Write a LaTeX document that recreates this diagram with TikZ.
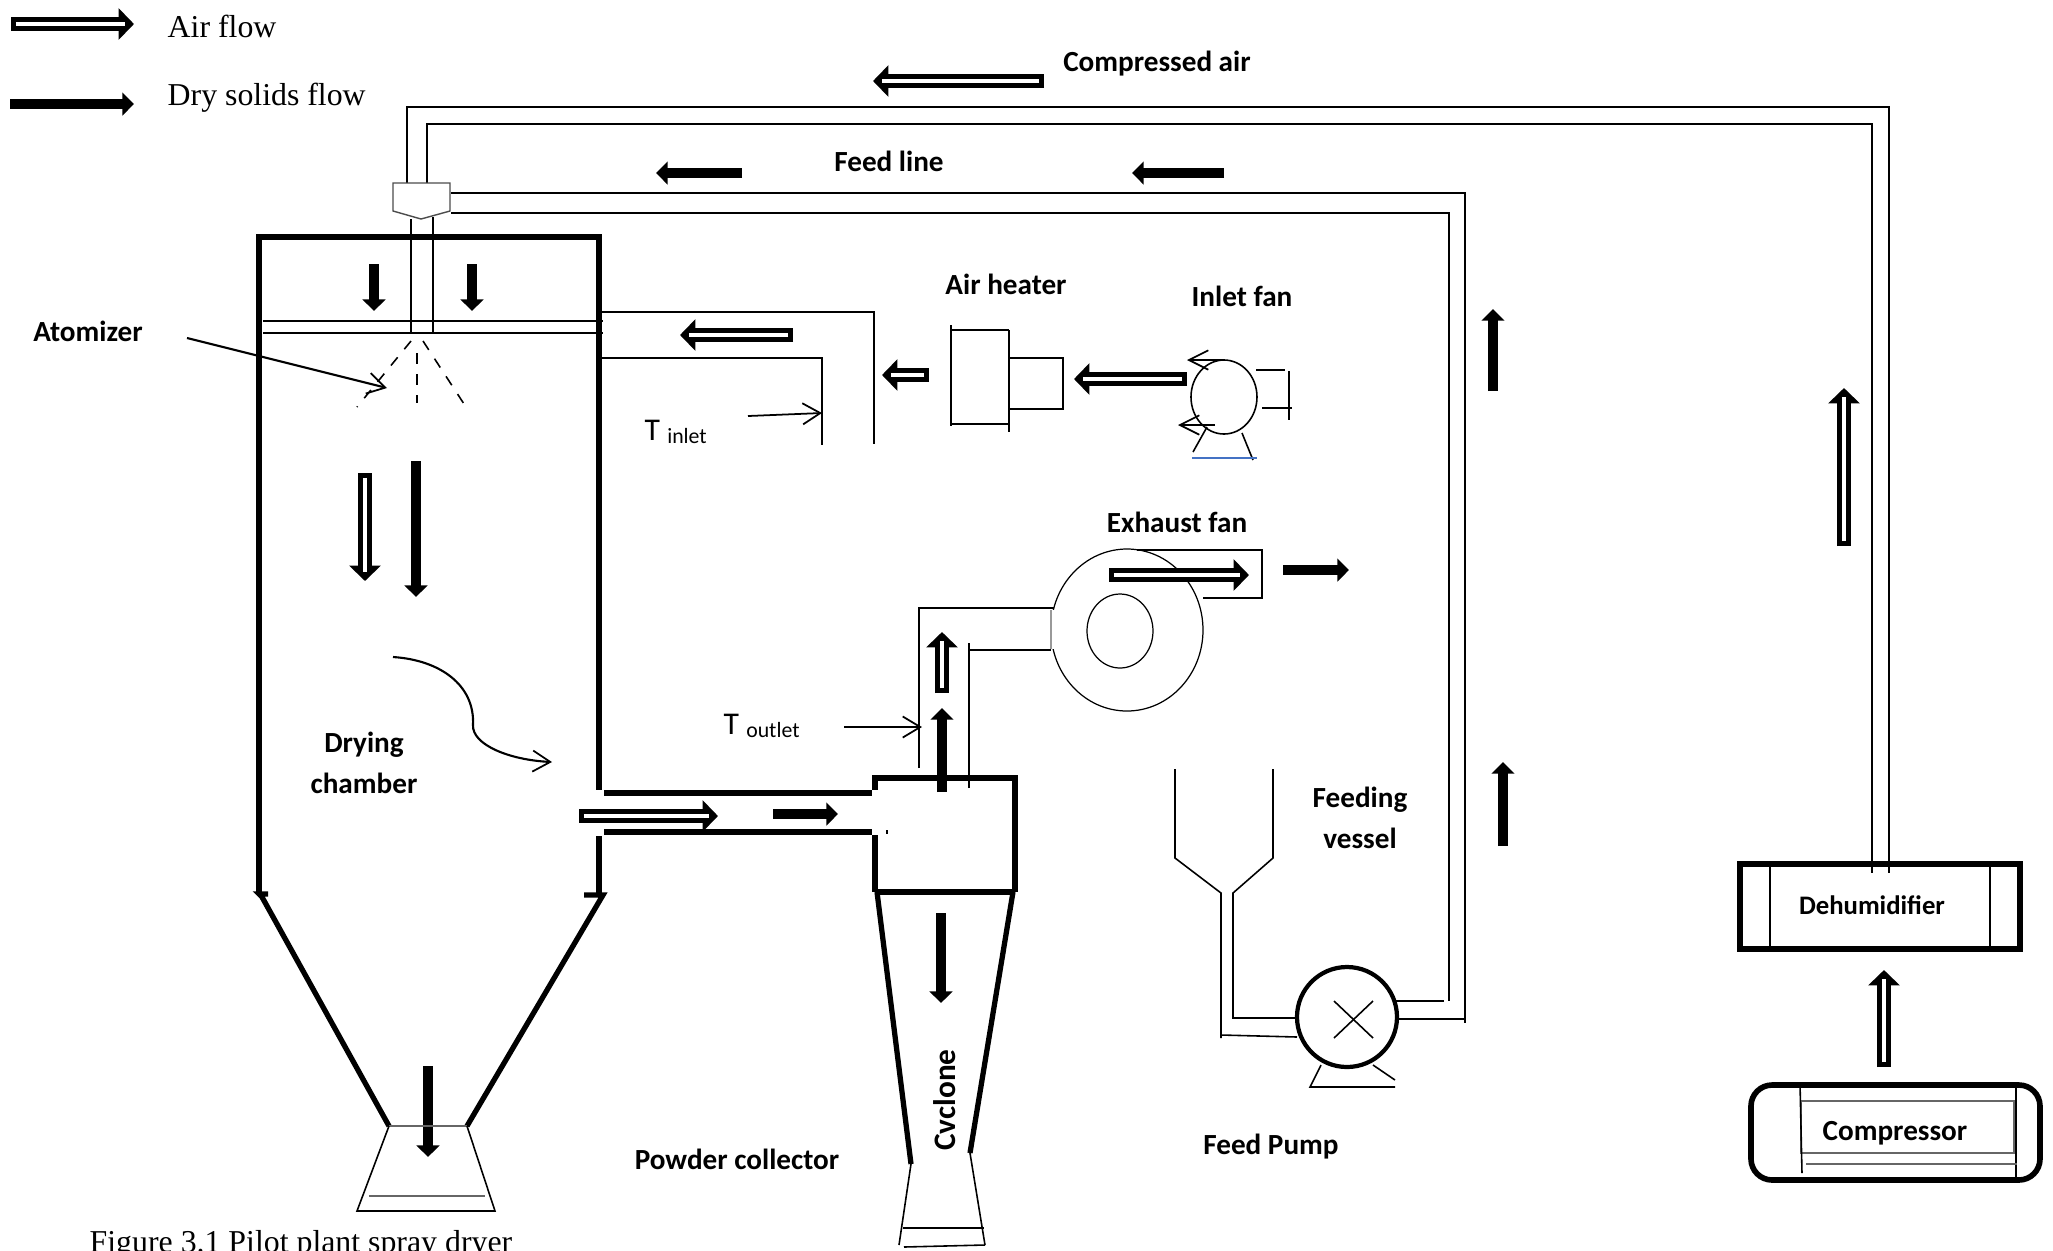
\documentclass[tikz,border=0pt]{standalone}
\usepackage{fontspec}
\setmainfont{Carlito}
\newfontfamily\timesfont{Liberation Serif}
\usepackage{xcolor}
\usetikzlibrary{calc,arrows.meta}
\definecolor{baseblue}{HTML}{4472C4}
\tikzset{
  pipe/.style={line width=0.45pt},
  wall/.style={line width=1.5pt},
  faint/.style={line width=0.5pt,black!60},
  openhead/.style={line width=0.5pt,-{Straight Barb[length=5pt,width=6pt,line width=0.5pt]}},
  solidflow/.style={line width=2.9pt,-{Triangle[length=3.3pt,width=6.4pt]}},
  airflow/.style={line width=4.1pt,-{Triangle[length=4.4pt,width=8.8pt]},
    postaction={draw=white,line width=1.4pt,arrows=-,shorten <=1.4pt,shorten >=2.6pt}},
  tag/.style={font=\fontsize{8.3}{10}\selectfont\bfseries,inner sep=0pt},
  keytext/.style={font=\fontsize{9.05}{11}\timesfont,inner sep=0pt,anchor=west},
  probe/.style={font=\fontsize{9}{11}\selectfont,inner sep=0pt,anchor=base west}
}
\begin{document}
\begin{tikzpicture}[x=0.01cm,y=-0.01cm]
  \useasboundingbox (0,0) rectangle (2053,1250);
  % legend
  \draw[airflow] (11,24) -- (134,24);
  \draw[solidflow] (10,104) -- (134,104);
  \node[keytext] (airkey) at (167,26) {Air flow};
  \node[keytext] (solidkey) at (167,98) {Dry solids flow};
  \node[keytext] (figcaption) at (89,1245) {Figure 3.1 Pilot plant spray dryer};
  % compressed air line and feed line
  \draw[pipe] (407,183) -- (407,107) -- (1889,107) -- (1889,873);
  \draw[pipe] (427,183) -- (427,124) -- (1872,124) -- (1872,873);
  \draw[pipe] (451,193) -- (1465,193) -- (1465,1023);
  \draw[pipe] (451,213) -- (1449,213) -- (1449,1001);
  \draw[pipe] (1398,1019) -- (1465,1019);
  \draw[pipe] (1396,1001) -- (1444,1001);
  \draw[airflow] (1044,81) -- (873,81);
  \foreach \a/\b in {742/656,1224/1132}{
    \draw[solidflow] (\a,173) -- (\b,173);
  }
  \draw[solidflow] (1493,391) -- (1493,309);
  \draw[solidflow] (1503,846) -- (1503,762);
  \draw[airflow] (1844,546) -- (1844,388);
  \node[tag] (compressedair) at (1157,64) {Compressed air};
  \node[tag] (feedline) at (889,161) {Feed line};
  % nozzle and spray
  \draw[line width=0.4pt,black!70] (393,183) -- (450,183) -- (450,211) -- (421,219) -- (393,211) -- cycle;
  \draw[pipe] (411,219) -- (411,333);
  \draw[pipe] (433,217) -- (433,333);
  \draw[pipe,dashed] (411,341) -- (357,407);
  \draw[pipe,dashed] (417,353) -- (417,403);
  \draw[pipe,dashed] (423,341) -- (466,407);
  % drying chamber
  \draw[line width=1.8pt] (259,894) -- (259,237) -- (599,237) -- (599,790);
  \draw[wall] (599,836) -- (599,895);
  \draw[wall] (268,894) -- (259,894) -- (262,897) -- (389,1126);
  \draw[wall] (584,895) -- (603,895) -- (467,1126);
  \draw[pipe] (263,321) -- (603,321);
  \draw[pipe] (263,333) -- (603,333);
  \foreach \x in {374,472}{
    \draw[solidflow] (\x,264) -- (\x,311);
  }
  \draw[airflow] (365,473) -- (365,581);
  \draw[solidflow] (416,461) -- (416,597);
  \draw[solidflow] (428,1066) -- (428,1157);
  \draw[openhead,line width=0.6pt] (393,657) .. controls (440,660) and (475,685) .. (473,725) .. controls (472,745) and (510,760) .. (552,762);
  \coordinate (atomfrom) at (187,338);
  \coordinate (atomto) at (387,388);
  \draw[openhead,line width=0.6pt] (atomfrom) -- (atomto);
  \node[tag] (atomizer) at (88,331) {Atomizer};
  \node[tag] (drying) at (364,745) {Drying};
  \node[tag] (chamber) at (364,783) {chamber};
  % powder collector
  \draw[faint] (389,1126) -- (467,1126);
  \draw[pipe] (389,1126) -- (357,1211) -- (495,1211) -- (467,1126);
  \draw[faint] (369,1196) -- (485,1196);
  % inlet duct
  \draw[pipe] (602,312) -- (874,312) -- (874,444);
  \draw[pipe] (602,358) -- (822,358) -- (822,445);
  \draw[airflow] (793,335) -- (680,335);
  \coordinate (tinletfrom) at (748,416);
  \coordinate (tinletto) at (822,413);
  \draw[openhead] (tinletfrom) -- (tinletto);
  \node[probe] (tinlet) at (644,440) {T \raisebox{-1pt}{\fontsize{6.2}{7}\selectfont inlet}};
  % air heater
  \draw[airflow] (929,375) -- (882,375);
  \draw[pipe] (951,325) -- (951,426);
  \draw[pipe] (951,330) -- (1009,330);
  \draw[pipe] (951,424) -- (1009,424);
  \draw[pipe] (1009,330) -- (1009,432);
  \draw[pipe] (1009,358) -- (1063,358) -- (1063,409) -- (1009,409);
  \draw[airflow] (1187,379) -- (1074,379);
  \node[tag] (airheater) at (1006,284) {Air heater};
  % inlet fan
  \draw[pipe] (1224,397) ellipse (33 and 37);
  \coordinate (fantop) at (1225,360);
  \coordinate (fantoptip) at (1187,360);
  \coordinate (fanlow) at (1215,425);
  \coordinate (fanlowtip) at (1178,425);
  \draw[openhead,-{Straight Barb[length=5.5pt,width=5.5pt,line width=0.5pt]}] (fantop) -- (fantoptip);
  \draw[openhead,-{Straight Barb[length=5.5pt,width=5.5pt,line width=0.5pt]}] (fanlow) -- (fanlowtip);
  \draw[pipe] (1256,370) -- (1285,370);
  \draw[pipe] (1262,408) -- (1292,408);
  \draw[pipe] (1289,371) -- (1289,420);
  \draw[pipe] (1207,427) -- (1193,452);
  \draw[pipe] (1242,433) -- (1253,460);
  \draw[baseblue,line width=0.45pt] (1192,458) -- (1257,458);
  \node[tag] (inletfan) at (1242,296) {Inlet fan};
  % exhaust fan
  \draw[line width=0.35pt] (1127,630) ellipse (76 and 81);
  \draw[line width=0.35pt] (1120,631) ellipse (33 and 37);
  \draw[white,line width=1pt] (1052,610) -- (1052,649);
  \draw[line width=0.3pt,black!40] (1051,610) -- (1051,649);
  \draw[pipe] (1137,550) -- (1262,550) -- (1262,598) -- (1203,598);
  \draw[pipe] (919,768) -- (919,608) -- (1054,608);
  \draw[pipe] (969,788) -- (969,643);
  \draw[pipe] (969,650) -- (1051,650);
  \draw[airflow] (1109,575) -- (1249,575);
  \draw[solidflow] (1283,570) -- (1349,570);
  \draw[airflow] (942,693) -- (942,632);
  \node[tag] (exhaustfan) at (1177,522) {Exhaust fan};
  \coordinate (toutletfrom) at (844,727);
  \coordinate (toutletto) at (922,727);
  \draw[openhead] (toutletfrom) -- (toutletto);
  \node[probe] (toutlet) at (723,734) {T \raisebox{-1pt}{\fontsize{6.2}{7}\selectfont outlet}};
  % connecting pipe and cyclone
  \draw[line width=1.8pt] (604,793) -- (872,793);
  \draw[line width=1.8pt] (604,832) -- (872,832);
  \draw[airflow] (579,816) -- (718,816);
  \draw[solidflow] (773,814) -- (838,814);
  \draw[wall] (875,790) -- (875,778) -- (1015,778) -- (1015,892);
  \draw[wall] (875,835) -- (875,892);
  \draw[pipe] (887,830) -- (887,834);
  \draw[line width=1.6pt] (875,892) -- (1015,892);
  \draw[solidflow] (942,792) -- (942,708);
  \draw[wall] (877,892) -- (911,1164);
  \draw[wall] (1013,892) -- (970,1153);
  \draw[pipe] (911,1164) -- (899,1245);
  \draw[pipe] (970,1153) -- (985,1245);
  \draw[pipe] (904,1247) -- (985,1245);
  \draw[pipe] (903,1228) -- (984,1228);
  \draw[solidflow] (941,913) -- (941,1003);
  \node[tag,rotate=90,font=\fontsize{8.9}{10}\selectfont\bfseries] (cyclone) at (945,1100) {Cvclone};
  \node[tag] (powder) at (737,1159) {Powder collector};
  % feeding vessel and pump
  \draw[pipe] (1175,769) -- (1175,858) -- (1221,893) -- (1221,1038);
  \draw[pipe] (1273,769) -- (1273,858) -- (1233,893) -- (1233,1018) -- (1296,1018);
  \draw[pipe] (1221,1035) -- (1297,1037);
  \draw[line width=1.2pt] (1347,1017) ellipse (50 and 50);
  \draw[pipe] (1334,1001) -- (1373,1038);
  \draw[pipe] (1373,1001) -- (1334,1038);
  \draw[pipe] (1321,1065) -- (1310,1087) -- (1395,1087);
  \draw[pipe] (1373,1065) -- (1395,1080);
  \node[tag] (feeding) at (1360,800) {Feeding};
  \node[tag] (vessel) at (1360,838) {vessel};
  \node[tag] (feedpump) at (1271,1147) {Feed Pump};
  % dehumidifier and compressor
  \draw[line width=1.6pt] (1740,864) rectangle (2020,949);
  \draw[pipe] (1770,864) -- (1770,950);
  \draw[pipe] (1990,862) -- (1990,950);
  \node[tag,font=\fontsize{7.6}{9}\selectfont\bfseries] (dehumidifier) at (1872,905) {Dehumidifier};
  \draw[airflow] (1884,1067) -- (1884,970);
  \draw[line width=1.6pt,rounded corners=6pt] (1751,1085) rectangle (2040,1180);
  \draw[faint] (1801,1101) rectangle (2014,1153);
  \draw[pipe] (1800,1083) -- (1802,1173);
  \draw[pipe] (2016,1085) -- (2016,1180);
  \draw[faint] (1806,1164) -- (2017,1164);
  \node[tag] (compressor) at (1895,1133) {Compressor};
\end{tikzpicture}
\end{document}
